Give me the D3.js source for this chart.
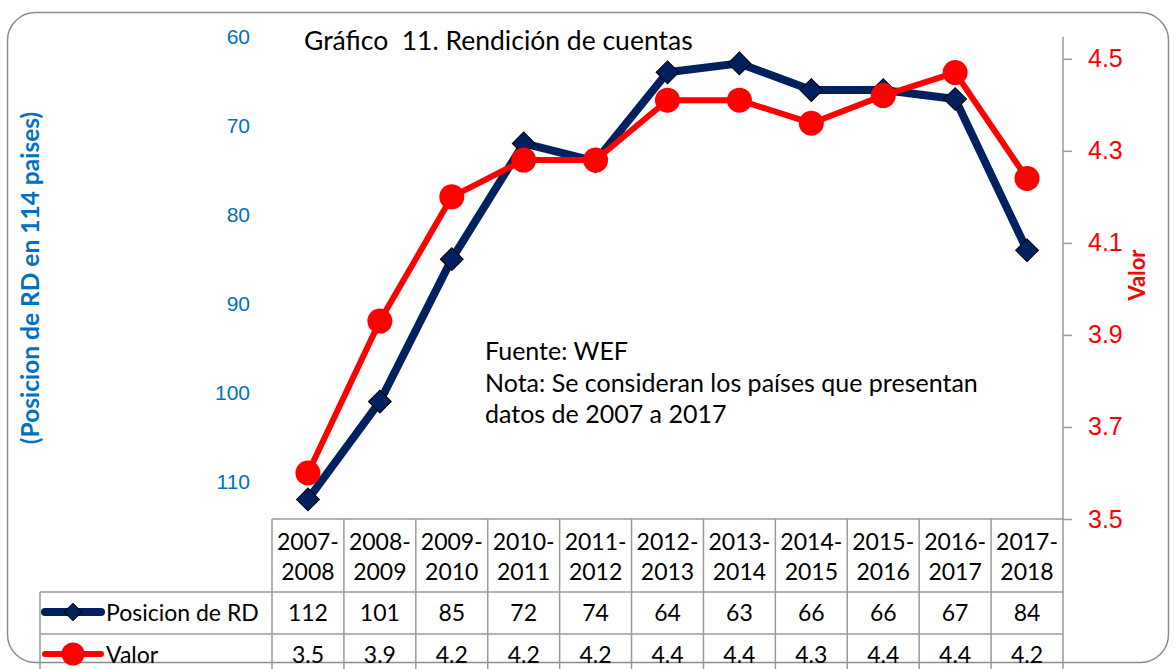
<!DOCTYPE html>
<html>
<head>
<meta charset="utf-8">
<script src="https://cdn.jsdelivr.net/npm/d3@7"></script>
<style>
  html, body { margin: 0; padding: 0; background: #fff; }
  svg { display: block; font-family: Lato, "Open Sans", sans-serif; }
</style>
</head>
<body>
<div id="chart"></div>
<script>
const periods = ['2007-2008', '2008-2009', '2009-2010', '2010-2011', '2011-2012', '2012-2013',
  '2013-2014', '2014-2015', '2015-2016', '2016-2017', '2017-2018'];
const posicion = [112, 101, 85, 72, 74, 64, 63, 66, 66, 67, 84];
const valor = [3.60, 3.93, 4.20, 4.28, 4.28, 4.41, 4.41, 4.36, 4.42, 4.47, 4.24];
const valorText = ['3.5', '3.9', '4.2', '4.2', '4.2', '4.4', '4.4', '4.3', '4.4', '4.4', '4.2'];
const leftTicks = [60, 70, 80, 90, 100, 110];
const rightTicks = [3.5, 3.7, 3.9, 4.1, 4.3, 4.5];

const W = 1175, H = 669;
const blue = '#002060', red = '#FF0000', axisBlue = '#0070C0', grid = '#9a9a9a';

const plotTop = 36.7, plotBottom = 519;
const x = d3.scaleBand().domain(periods).range([272, 1063]);
const yLeft = d3.scaleLinear().domain([60, 114.2]).range([plotTop, plotBottom]);
const yRight = d3.scaleLinear().domain([3.5, 4.548]).range([plotBottom, plotTop]);
const cx = (d) => x(d) + x.bandwidth() / 2;

const svg = d3.select('#chart').append('svg').attr('width', W).attr('height', H);

// outer frame
svg.append('rect')
  .attr('x', 7.5).attr('y', 12.5).attr('width', 1161).attr('height', 650)
  .attr('rx', 28).attr('fill', 'none').attr('stroke', '#8c8c8c').attr('stroke-width', 1.5);

// title
svg.append('text').attr('x', 304).attr('y', 50)
  .attr('font-size', 26.5).attr('fill', '#000')
  .attr('xml:space', 'preserve')
  .text('Gráfico  11. Rendición de cuentas');

// left axis (labels only)
const gl = svg.append('g').attr('transform', 'translate(250,0)')
  .call(d3.axisLeft(yLeft).tickValues(leftTicks).tickSize(0).tickPadding(0));
gl.select('.domain').remove();
gl.selectAll('text').attr('font-size', 21).attr('fill', axisBlue).attr('font-family', null);

svg.append('text')
  .attr('transform', 'translate(39,278) rotate(-90)')
  .attr('text-anchor', 'middle').attr('font-weight', 'bold')
  .attr('font-size', 24.5).attr('fill', axisBlue)
  .text('(Posicion de RD en 114 paises)');

// right axis
const gr = svg.append('g').attr('transform', 'translate(1063,0)')
  .call(d3.axisRight(yRight).tickValues(rightTicks).tickFormat(d3.format('.1f')).tickSize(9).tickSizeOuter(0).tickPadding(16));
gr.select('.domain').attr('stroke', grid).attr('stroke-width', 1.5)
  .attr('d', `M0,${plotTop}V${plotBottom}`);
gr.selectAll('line').attr('stroke', grid).attr('stroke-width', 1.5);
gr.selectAll('text').attr('font-size', 25).attr('fill', red).attr('font-family', null);

svg.append('text')
  .attr('transform', 'translate(1145,275) rotate(-90)')
  .attr('text-anchor', 'middle').attr('font-weight', 'bold')
  .attr('font-size', 22).attr('fill', red)
  .text('Valor');

// note
const note = svg.append('text').attr('font-size', 25).attr('fill', '#000');
[['Fuente: WEF', 360], ['Nota: Se consideran los países que presentan', 392], ['datos de 2007 a 2017', 423]]
  .forEach(([t, yy]) => note.append('tspan').attr('x', 485).attr('y', yy).text(t));

// data table
const rowTop = [519, 592, 634, 700];
const table = svg.append('g').attr('stroke', grid).attr('stroke-width', 1.5).attr('fill', 'none');
table.append('line').attr('x1', 272).attr('x2', 1063).attr('y1', rowTop[0]).attr('y2', rowTop[0]);
table.append('line').attr('x1', 40).attr('x2', 1063).attr('y1', rowTop[1]).attr('y2', rowTop[1]);
table.append('line').attr('x1', 40).attr('x2', 1063).attr('y1', rowTop[2]).attr('y2', rowTop[2]);
table.append('line').attr('x1', 40).attr('x2', 40).attr('y1', rowTop[1]).attr('y2', rowTop[3]);
table.selectAll('line.v').data(periods.concat(['end'])).join('line')
  .attr('class', 'v')
  .attr('x1', (d) => d === 'end' ? 1063 : x(d))
  .attr('x2', (d) => d === 'end' ? 1063 : x(d))
  .attr('y1', rowTop[0]).attr('y2', rowTop[3]);

const head = svg.append('g').attr('font-size', 23).attr('text-anchor', 'middle').attr('fill', '#000');
periods.forEach((p) => {
  const [a, b] = p.split('-');
  head.append('text').attr('x', cx(p)).attr('y', 550).text(a + '-');
  head.append('text').attr('x', cx(p)).attr('y', 580).text(b);
});
head.selectAll('text.pos').data(periods).join('text').attr('class', 'pos')
  .attr('x', cx).attr('y', 621).text((d, i) => posicion[i]);
head.selectAll('text.val').data(periods).join('text').attr('class', 'val')
  .attr('x', cx).attr('y', 663).text((d, i) => valorText[i]);

// legend keys in table
svg.append('line').attr('x1', 45).attr('x2', 101).attr('y1', 612).attr('y2', 612)
  .attr('stroke', blue).attr('stroke-width', 8).attr('stroke-linecap', 'round');
svg.append('path').attr('d', d3.symbol().type(d3.symbolSquare).size(150))
  .attr('transform', 'translate(73,612) rotate(45)')
  .attr('fill', blue).attr('stroke', '#000').attr('stroke-width', 1);
svg.append('text').attr('x', 106).attr('y', 621).attr('font-size', 23).text('Posicion de RD');

svg.append('line').attr('x1', 45).attr('x2', 101).attr('y1', 654).attr('y2', 654)
  .attr('stroke', red).attr('stroke-width', 6).attr('stroke-linecap', 'round');
svg.append('circle').attr('cx', 73).attr('cy', 654).attr('r', 11.5).attr('fill', red);
svg.append('text').attr('x', 106).attr('y', 663).attr('font-size', 23).text('Valor');

// series
const lineBlue = d3.line().x((d, i) => cx(periods[i])).y((d) => yLeft(d));
svg.append('path').datum(posicion).attr('d', lineBlue)
  .attr('fill', 'none').attr('stroke', blue).attr('stroke-width', 8).attr('stroke-linejoin', 'round');
svg.selectAll('path.dia').data(posicion).join('path').attr('class', 'dia')
  .attr('d', d3.symbol().type(d3.symbolSquare).size(260))
  .attr('transform', (d, i) => `translate(${cx(periods[i])},${yLeft(d)}) rotate(45)`)
  .attr('fill', blue).attr('stroke', '#000').attr('stroke-width', 1);

const lineRed = d3.line().x((d, i) => cx(periods[i])).y((d) => yRight(d));
svg.append('path').datum(valor).attr('d', lineRed)
  .attr('fill', 'none').attr('stroke', red).attr('stroke-width', 6).attr('stroke-linejoin', 'round');
svg.selectAll('circle.pt').data(valor).join('circle').attr('class', 'pt')
  .attr('cx', (d, i) => cx(periods[i])).attr('cy', (d) => yRight(d)).attr('r', 12.5)
  .attr('fill', red);
</script>
</body>
</html>
